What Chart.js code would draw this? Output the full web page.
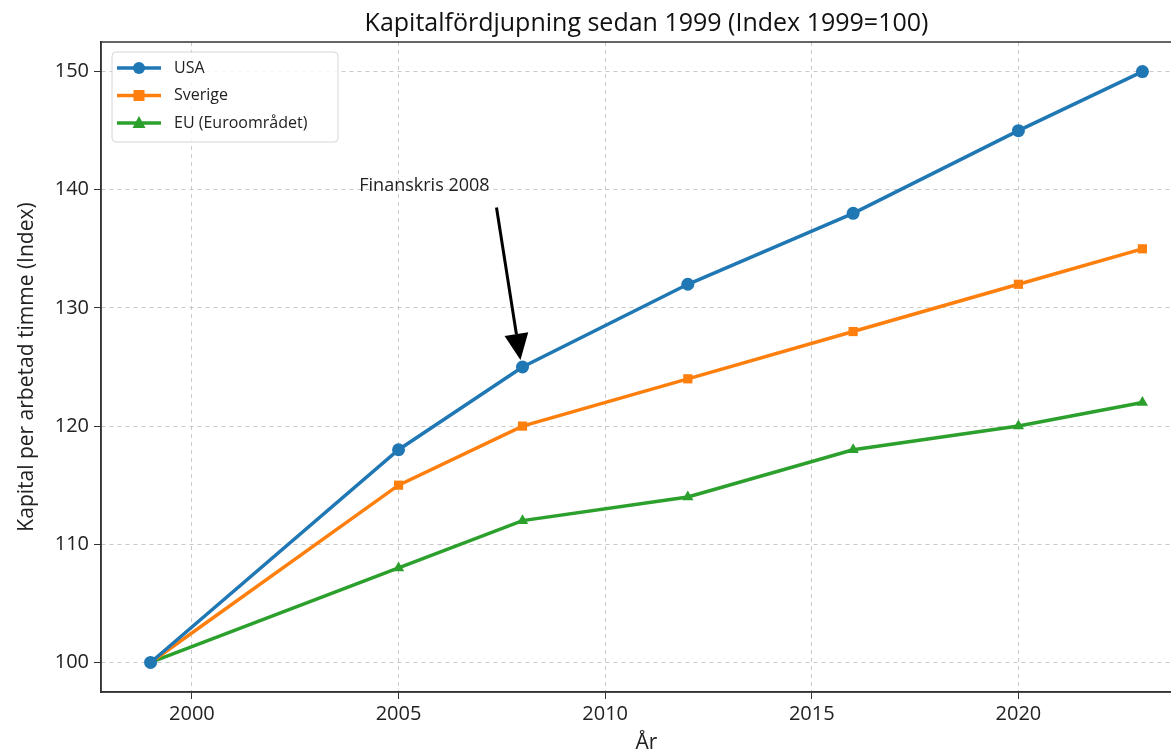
<!DOCTYPE html>
<html>
<head>
<meta charset="utf-8">
<script src="https://cdn.jsdelivr.net/npm/chart.js@4"></script>
<style>
  html, body { margin: 0; padding: 0; background: #fff; overflow: hidden; }
  canvas { display: block; }
</style>
</head>
<body>
<canvas id="chart" width="1200" height="756"></canvas>
<script>
// data
const years = [1999, 2005, 2008, 2012, 2016, 2020, 2023];
const usa = [100, 118, 125, 132, 138, 145, 150];
const sverige = [100, 115, 120, 124, 128, 132, 135];
const eu = [100, 108, 112, 114, 118, 120, 122];
const seriesNames = ['USA', 'Sverige', 'EU (Euroområdet)'];
const chartTitle = 'Kapitalfördjupning sedan 1999 (Index 1999=100)';
const annotationText = 'Finanskris 2008';

const FONT = '"Open Sans", Lato, sans-serif';

function toPoints(vals) {
  return years.map((y, i) => ({ x: y, y: vals[i] }));
}

// title over the plot, frame, annotation arrow and legend inside the plot
const extras = {
  id: 'extras',
  afterDatasetsDraw(chart) {
    const ctx = chart.ctx;
    const a = chart.chartArea;
    const xs = chart.scales.x, ys = chart.scales.y;
    ctx.save();

    // title, centred on the plot like matplotlib does
    ctx.fillStyle = '#111';
    ctx.font = '25px ' + FONT;
    ctx.textAlign = 'center';
    ctx.textBaseline = 'alphabetic';
    ctx.fillText(chartTitle, (a.left + a.right) / 2, 31);

    // frame
    ctx.strokeStyle = '#333';
    ctx.lineWidth = 1.5;
    ctx.strokeRect(a.left, a.top, a.right - a.left, a.bottom - a.top);

    // annotation
    ctx.fillStyle = '#222';
    ctx.font = '18px ' + FONT;
    ctx.textAlign = 'left';
    ctx.fillText(annotationText, xs.getPixelForValue(2004.05), ys.getPixelForValue(139.9));

    const x0 = xs.getPixelForValue(2007.37), y0 = ys.getPixelForValue(138.5);
    const x1 = xs.getPixelForValue(2007.95), y1 = ys.getPixelForValue(125.6);
    const ang = Math.atan2(y1 - y0, x1 - x0);
    const headLen = 26, headW = 12;
    const bx = x1 - headLen * Math.cos(ang), by = y1 - headLen * Math.sin(ang);
    ctx.strokeStyle = '#000';
    ctx.lineWidth = 3;
    ctx.beginPath();
    ctx.moveTo(x0, y0);
    ctx.lineTo(bx, by);
    ctx.stroke();
    ctx.fillStyle = '#000';
    ctx.beginPath();
    ctx.moveTo(x1, y1);
    ctx.lineTo(bx + headW * Math.sin(ang), by - headW * Math.cos(ang));
    ctx.lineTo(bx - headW * Math.sin(ang), by + headW * Math.cos(ang));
    ctx.closePath();
    ctx.fill();

    // legend
    const lx = a.left + 11, ly = a.top + 10, lw = 226, lh = 90;
    ctx.fillStyle = 'rgba(255,255,255,0.85)';
    ctx.strokeStyle = '#d6d6d6';
    ctx.lineWidth = 1;
    ctx.beginPath();
    ctx.roundRect(lx, ly, lw, lh, 4);
    ctx.fill();
    ctx.stroke();
    ctx.font = '16px ' + FONT;
    ctx.textBaseline = 'middle';
    chart.data.datasets.forEach((ds, i) => {
      const cy = ly + 16 + i * 27.5;
      ctx.strokeStyle = ds.borderColor;
      ctx.lineWidth = 3.5;
      ctx.beginPath();
      ctx.moveTo(lx + 5, cy);
      ctx.lineTo(lx + 49, cy);
      ctx.stroke();
      ctx.fillStyle = ds.borderColor;
      const mx = lx + 27;
      ctx.beginPath();
      if (ds.pointStyle === 'circle') {
        ctx.arc(mx, cy, 6, 0, Math.PI * 2);
      } else if (ds.pointStyle === 'rect') {
        ctx.rect(mx - 5.5, cy - 5.5, 11, 11);
      } else {
        ctx.moveTo(mx, cy - 7);
        ctx.lineTo(mx + 6.5, cy + 5);
        ctx.lineTo(mx - 6.5, cy + 5);
        ctx.closePath();
      }
      ctx.fill();
      ctx.fillStyle = '#222';
      ctx.fillText(ds.label, lx + 62, cy);
    });
    ctx.restore();
  }
};

const colors = ['#1f77b4', '#ff7f0e', '#2ca02c'];
const styles = ['circle', 'rect', 'triangle'];
const values = [usa, sverige, eu];

const ctx = document.getElementById('chart').getContext('2d');
new Chart(ctx, {
  type: 'line',
  data: {
    datasets: values.map((v, i) => ({
      label: seriesNames[i],
      data: toPoints(v),
      borderColor: colors[i],
      backgroundColor: colors[i],
      borderWidth: 3.5,
      pointStyle: styles[i],
      pointRadius: 6.5,
      pointBorderWidth: 0,
      pointHoverRadius: 6.5,
      fill: false,
      tension: 0
    }))
  },
  options: {
    responsive: false,
    animation: false,
    devicePixelRatio: 1,
    layout: { padding: { left: 0, right: 8, top: 42, bottom: 0 } },
    plugins: {
      legend: { display: false },
      tooltip: { enabled: false },
      title: { display: false }
    },
    scales: {
      x: {
        type: 'linear',
        min: 1997.8,
        max: 2024.2,
        ticks: {
          stepSize: 5,
          includeBounds: false,
          color: '#222',
          font: { family: FONT, size: 20 },
          padding: 3,
          callback: v => String(v)
        },
        grid: {
          color: '#c8c8c8',
          tickColor: '#333',
          tickLength: 7,
          lineWidth: 1
        },
        border: { display: true, color: '#333', width: 1.5, dash: [4, 4] },
        title: {
          display: true,
          text: 'År',
          color: '#222',
          font: { family: FONT, size: 21 },
          padding: { top: 5, bottom: 0 }
        },
        afterFit(scale) { scale.height = 64; }
      },
      y: {
        min: 97.5,
        max: 152.5,
        ticks: {
          stepSize: 10,
          includeBounds: false,
          color: '#222',
          font: { family: FONT, size: 20 },
          padding: 5
        },
        grid: {
          color: '#c8c8c8',
          tickColor: '#333',
          tickLength: 7,
          lineWidth: 1
        },
        border: { display: true, color: '#333', width: 1.5, dash: [4, 4] },
        title: {
          display: true,
          text: 'Kapital per arbetad timme (Index)',
          color: '#222',
          font: { family: FONT, size: 21 },
          padding: { top: 14, bottom: 0 }
        },
        afterFit(scale) { scale.width = 101; }
      }
    }
  },
  plugins: [extras]
});
</script>
</body>
</html>
